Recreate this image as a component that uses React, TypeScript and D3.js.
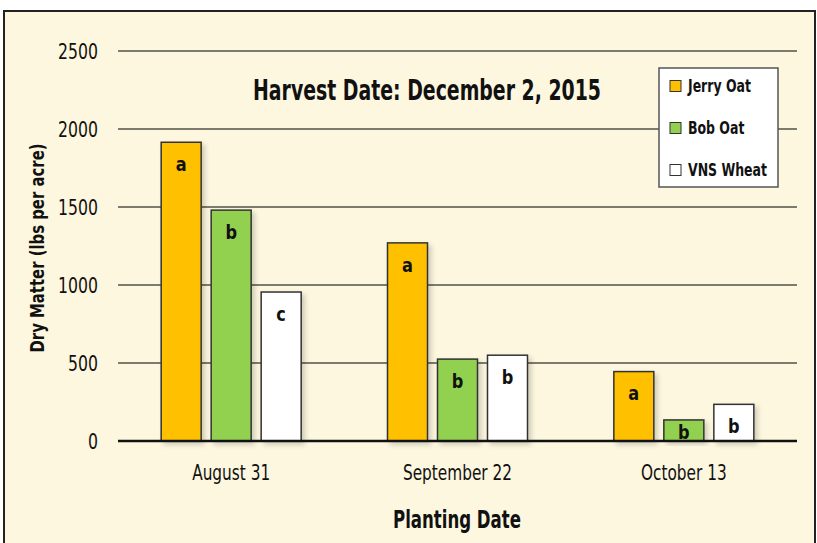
import React, { useEffect, useRef } from 'react';
import * as d3 from 'd3';

const plantingDates = ['August 31', 'September 22', 'October 13'];
const varieties = ['Jerry Oat', 'Bob Oat', 'VNS Wheat'];
const jerryOat = [1915, 1270, 445];
const bobOat = [1480, 525, 135];
const vnsWheat = [955, 550, 235];
const jerryLetters = ['a', 'a', 'a'];
const bobLetters = ['b', 'b', 'b'];
const vnsLetters = ['c', 'b', 'b'];
const yTicks = [0, 500, 1000, 1500, 2000, 2500];

const colors = ['#ffc000', '#92d050', '#ffffff'];
const font = '"DejaVu Sans", sans-serif';

// narrow a text horizontally around its x anchor (the original uses a condensed face)
function squeeze(sel: d3.Selection<any, any, any, any>, k: number) {
  sel.each(function () {
    const node = d3.select(this as SVGTextElement);
    const x = +(node.attr('x') || 0);
    const base = node.attr('transform') || '';
    node.attr('transform', `${base} translate(${x},0) scale(${k},1) translate(${-x},0)`);
  });
}

function measure(svg: d3.Selection<SVGSVGElement, unknown, null, undefined>, text: string, size: number, weight: string) {
  const t = svg.append('text').attr('font-family', font).attr('font-size', size)
    .attr('font-weight', weight).text(text);
  const w = (t.node() as SVGTextElement).getComputedTextLength();
  t.remove();
  return w;
}

const App: React.FC = () => {
  const svgRef = useRef<SVGSVGElement>(null);

  useEffect(() => {
    if (!svgRef.current) return;
    const svg = d3.select(svgRef.current);
    svg.selectAll('*').remove();

    const width = 817;
    const height = 543;
    const left = 118;
    const right = 797;
    const top = 51;
    const bottom = 441;

    const series = [jerryOat, bobOat, vnsWheat];
    const letters = [jerryLetters, bobLetters, vnsLetters];

    // frame
    svg.append('rect').attr('width', width).attr('height', height).attr('fill', '#ffffff');
    svg.append('rect')
      .attr('x', 4).attr('y', 11).attr('width', 811).attr('height', 560)
      .attr('fill', '#fdf7df').attr('stroke', '#222').attr('stroke-width', 2);

    const defs = svg.append('defs');
    const f = defs.append('filter').attr('id', 'shadow').attr('x', '-20%').attr('y', '-10%').attr('width', '150%').attr('height', '130%');
    f.append('feDropShadow').attr('dx', 3).attr('dy', 3).attr('stdDeviation', 2.5)
      .attr('flood-color', '#000').attr('flood-opacity', 0.18);

    const x0 = d3.scaleBand<string>().domain(plantingDates).range([left, right]);
    const x1 = d3.scaleBand<string>().domain(varieties).range([0, 140]).paddingInner(0.2);
    const y = d3.scaleLinear().domain([0, 2500]).range([bottom, top]);

    // gridlines
    svg.append('g').selectAll('line').data(yTicks.filter(t => t > 0)).join('line')
      .attr('x1', left).attr('x2', right)
      .attr('y1', d => y(d)).attr('y2', d => y(d))
      .attr('stroke', '#7d7b6e').attr('stroke-width', 2.2);

    const ticks = svg.append('g').selectAll('text').data(yTicks).join('text')
      .attr('x', 98).attr('y', d => y(d)).attr('dy', '0.36em')
      .attr('text-anchor', 'end').attr('font-family', font).attr('font-size', 22)
      .attr('fill', '#111').text(d => String(d));
    squeeze(ticks, 40 / measure(svg, '2500', 22, 'normal'));

    // bars
    const groups = svg.append('g').selectAll('g').data(plantingDates).join('g')
      .attr('transform', d => `translate(${(x0(d) as number) + (x0.bandwidth() - 140) / 2},0)`);

    groups.each(function (date, gi) {
      const g = d3.select(this);
      varieties.forEach((v, si) => {
        const val = series[si][gi];
        g.append('rect')
          .attr('x', x1(v) as number).attr('y', y(val))
          .attr('width', x1.bandwidth()).attr('height', bottom - y(val))
          .attr('fill', colors[si]).attr('stroke', '#333').attr('stroke-width', 1.5)
          .attr('filter', 'url(#shadow)');
        const lt = g.append('text')
          .attr('x', (x1(v) as number) + x1.bandwidth() / 2)
          .attr('y', Math.min(y(val) + 22, bottom - 9))
          .attr('dy', '0.36em').attr('text-anchor', 'middle')
          .attr('font-family', font).attr('font-weight', 'bold').attr('font-size', 19)
          .attr('fill', '#111').text(letters[si][gi]);
        squeeze(lt, 0.85);
      });
    });

    // zero axis
    svg.append('line').attr('x1', left).attr('x2', right).attr('y1', bottom).attr('y2', bottom)
      .attr('stroke', '#111').attr('stroke-width', 2.5);

    // category labels
    const cats = svg.append('g').selectAll('text').data(plantingDates).join('text')
      .attr('x', d => (x0(d) as number) + x0.bandwidth() / 2).attr('y', 472).attr('dy', '0.36em')
      .attr('text-anchor', 'middle').attr('font-family', font).attr('font-size', 21)
      .attr('fill', '#111').text(d => d);
    squeeze(cats, 78 / measure(svg, 'August 31', 21, 'normal'));

    const xt = svg.append('text').attr('x', 457).attr('y', 519).attr('dy', '0.36em')
      .attr('text-anchor', 'middle').attr('font-family', font).attr('font-weight', 'bold')
      .attr('font-size', 24).attr('fill', '#111').text('Planting Date');
    squeeze(xt, 128 / measure(svg, 'Planting Date', 24, 'bold'));

    const yt = svg.append('text')
      .attr('transform', 'translate(37,248) rotate(-90)').attr('dy', '0.36em')
      .attr('text-anchor', 'middle').attr('font-family', font).attr('font-weight', 'bold')
      .attr('font-size', 20).attr('fill', '#111').text('Dry Matter (lbs per acre)');
    squeeze(yt, 209 / measure(svg, 'Dry Matter (lbs per acre)', 20, 'bold'));

    const title = svg.append('text').attr('x', 427).attr('y', 90).attr('dy', '0.36em')
      .attr('text-anchor', 'middle').attr('font-family', font).attr('font-weight', 'bold')
      .attr('font-size', 28).attr('fill', '#111').text('Harvest Date: December 2, 2015');
    squeeze(title, 348 / measure(svg, 'Harvest Date: December 2, 2015', 28, 'bold'));

    // legend
    const lg = svg.append('g').attr('transform', 'translate(659,68)');
    lg.append('rect').attr('width', 119).attr('height', 119)
      .attr('fill', '#fff').attr('stroke', '#555').attr('stroke-width', 1.5);
    const legendK = 79 / measure(svg, 'VNS Wheat', 18, 'bold');
    varieties.forEach((v, i) => {
      const ly = 18 + i * 42;
      lg.append('rect').attr('x', 11).attr('y', ly - 5.5).attr('width', 11).attr('height', 11)
        .attr('fill', colors[i]).attr('stroke', '#333').attr('stroke-width', 1);
      const t = lg.append('text').attr('x', 29).attr('y', ly).attr('dy', '0.36em')
        .attr('font-family', font).attr('font-weight', 'bold').attr('font-size', 18)
        .attr('fill', '#111').text(v);
      squeeze(t, legendK);
    });
  }, []);

  return (
    <svg ref={svgRef} width={817} height={543}
      style={{ position: 'absolute', left: 0, top: 0 }} />
  );
};

export default App;
